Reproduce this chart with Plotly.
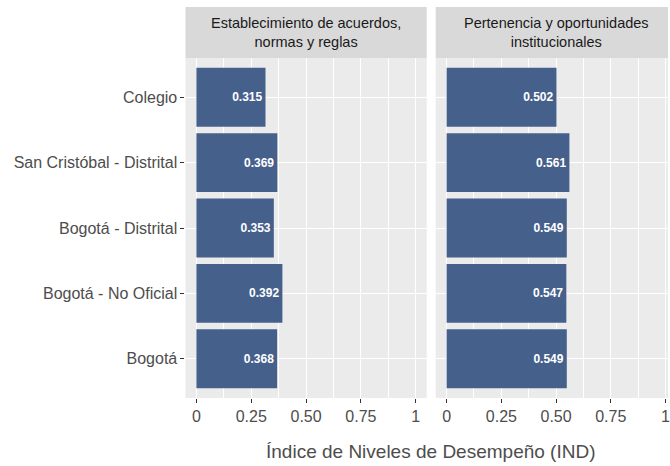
import plotly.graph_objects as go

categories = ["Colegio", "San Cristóbal - Distrital", "Bogotá - Distrital", "Bogotá - No Oficial", "Bogotá"]
panel_titles = ["Establecimiento de acuerdos,<br>normas y reglas", "Pertenencia y oportunidades<br>institucionales"]
values_acuerdos = [0.315, 0.369, 0.353, 0.392, 0.368]
values_pertenencia = [0.502, 0.561, 0.549, 0.547, 0.549]
tick_vals = [0, 0.25, 0.5, 0.75, 1]
tick_text = ["0", "0.25", "0.50", "0.75", "1"]
x_title = "Índice de Niveles de Desempeño (IND)"

W, H = 670, 466
FONT = "Liberation Sans, Arial, sans-serif"
BAR = "#46608C"

fig = go.Figure()
for i, vals in enumerate([values_acuerdos, values_pertenencia]):
    fig.add_trace(go.Bar(
        x=vals, y=categories, orientation="h",
        xaxis="x" if i == 0 else "x2", yaxis="y" if i == 0 else "y2",
        marker=dict(color=BAR, line=dict(width=0)),
        width=0.9,
        text=[f"{v:.3f}" for v in vals],
        textposition="inside", insidetextanchor="end",
        textfont=dict(family=FONT, size=12, color="white", weight="bold"),
        textangle=0, cliponaxis=False, showlegend=False, hoverinfo="x+y",
    ))

def px_x(p):
    return p / W

def px_y(p):
    return 1 - p / H

panels = [(186, 428, [-0.05, 1.05]), (437, 670, [-0.05, -0.05 + (670 - 437) / 219.5])]
ytop, ybot = 58, 398
strip_top = 7

common_x = dict(
    tickmode="array", tickvals=tick_vals, ticktext=tick_text,
    showgrid=True, gridcolor="white", gridwidth=1.4,
    minor=dict(tickmode="array", tickvals=[0.125, 0.375, 0.625, 0.875], showgrid=True, gridcolor="white", gridwidth=0.6, ticks=""),
    ticks="outside", ticklen=4, tickcolor="#333333", tickwidth=1,
    tickfont=dict(family=FONT, size=16, color="#4D4D4D"),
    ticklabeloverflow="allow",
    zeroline=False, showline=False, fixedrange=True,
)
common_y = dict(
    type="category", categoryorder="array", categoryarray=categories,
    range=[4.6, -0.6], showgrid=True, gridcolor="white", gridwidth=1.4,
    zeroline=False, showline=False, fixedrange=True,
)

layout = dict(
    width=W, height=H, margin=dict(l=0, r=0, t=0, b=0),
    paper_bgcolor="white", plot_bgcolor="#EBEBEB",
    font=dict(family=FONT),
    bargap=0.1,
)
for i, (x0, x1, rng) in enumerate(panels):
    suf = "" if i == 0 else "2"
    xa = dict(common_x, domain=[px_x(x0), px_x(x1)], range=rng, anchor="y" + suf)
    ya = dict(common_y, domain=[px_y(ybot), px_y(ytop)], anchor="x" + suf)
    if i == 0:
        ya.update(ticks="outside", ticklen=4, tickcolor="#333333", tickwidth=1,
                  tickfont=dict(family=FONT, size=16, color="#4D4D4D"), showticklabels=True)
    else:
        ya.update(ticks="", showticklabels=False, matches="y")
    layout["xaxis" + suf] = xa
    layout["yaxis" + suf] = ya

shapes = []
annotations = []
for i, (x0, x1, rng) in enumerate(panels):
    shapes.append(dict(type="rect", xref="paper", yref="paper",
                       x0=px_x(x0), x1=px_x(x1), y0=px_y(ytop), y1=px_y(strip_top),
                       fillcolor="#D9D9D9", line=dict(width=0), layer="below"))
    annotations.append(dict(xref="paper", yref="paper",
                            x=px_x((x0 + (x1 if i == 0 else x0 + 242)) / 2), y=px_y((ytop + strip_top) / 2),
                            text=panel_titles[i], showarrow=False, xanchor="center", yanchor="middle",
                            font=dict(family=FONT, size=14.5, color="#1A1A1A")))
annotations.append(dict(xref="paper", yref="paper", x=px_x(432), y=px_y(451),
                        text=x_title, showarrow=False, xanchor="center", yanchor="middle",
                        font=dict(family=FONT, size=19, color="#4D4D4D")))
layout["shapes"] = shapes
layout["annotations"] = annotations

fig.update_layout(**layout)
fig.write_html("out.html", config={"displayModeBar": False},
               post_script="document.body.style.margin='0';document.body.style.overflow='hidden';")
